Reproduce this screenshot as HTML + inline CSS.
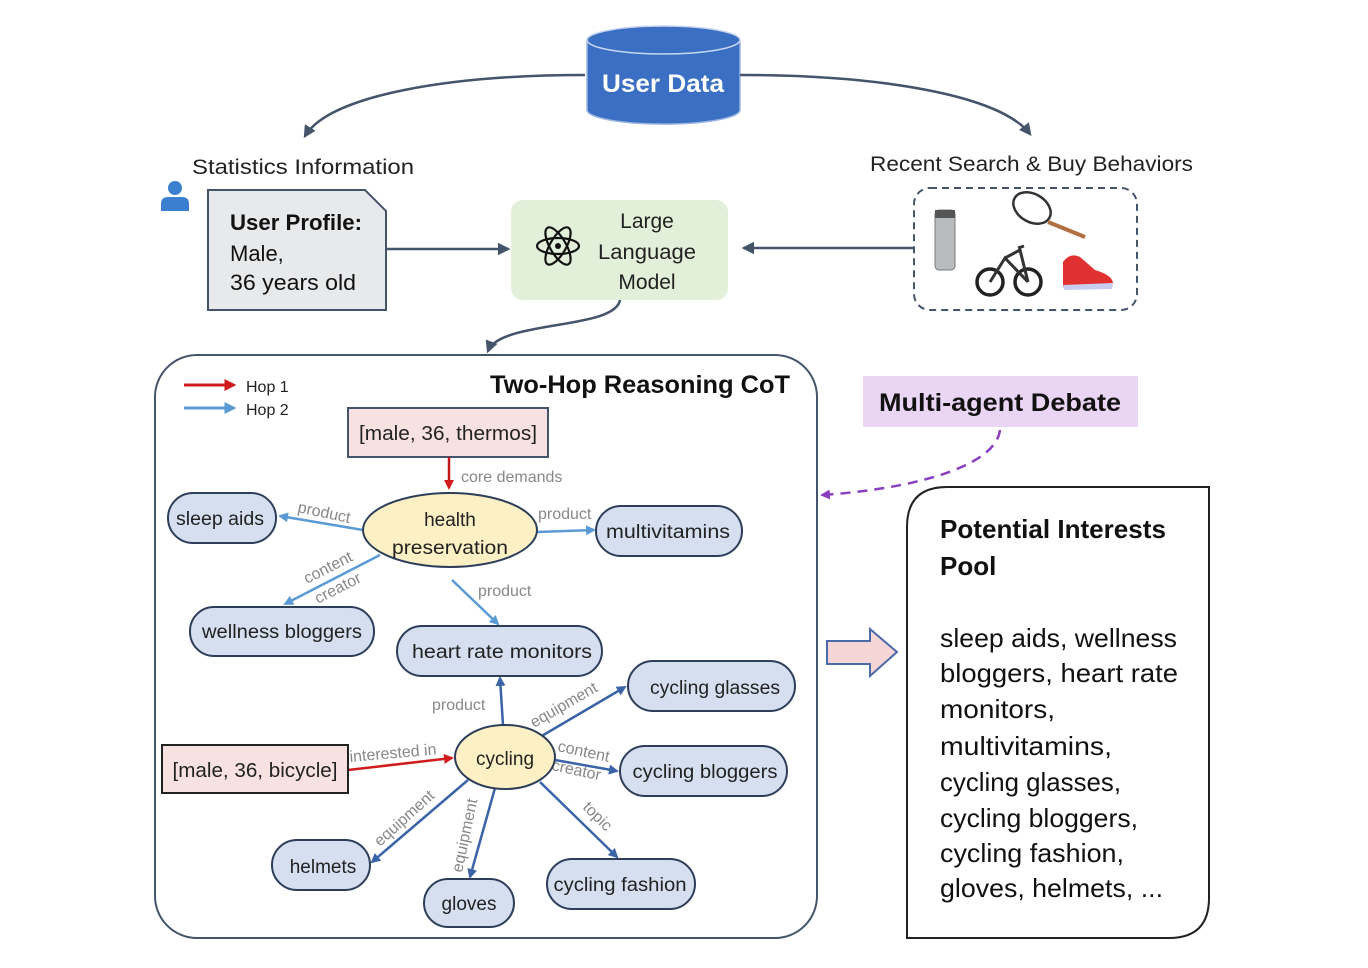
<!DOCTYPE html>
<html><head><meta charset="utf-8"><style>html,body{margin:0;padding:0;background:#fff}svg{display:block}text{font-family:"Liberation Sans",sans-serif}</style></head><body>
<svg width="1368" height="968" viewBox="0 0 1368 968" xmlns="http://www.w3.org/2000/svg">
<defs>
<marker id="ad" viewBox="0 0 10 10" refX="8" refY="5" markerWidth="5" markerHeight="5" orient="auto"><path d="M0,0 L10,5 L0,10 z" fill="#44546a"/></marker>
<marker id="ar" viewBox="0 0 10 10" refX="8" refY="5" markerWidth="4" markerHeight="4" orient="auto"><path d="M0,0 L10,5 L0,10 z" fill="#d01c1c"/></marker>
<marker id="al" viewBox="0 0 10 10" refX="8" refY="5" markerWidth="4" markerHeight="4" orient="auto"><path d="M0,0 L10,5 L0,10 z" fill="#5b9bd5"/></marker>
<marker id="ab" viewBox="0 0 10 10" refX="8" refY="5" markerWidth="4" markerHeight="4" orient="auto"><path d="M0,0 L10,5 L0,10 z" fill="#3b64a8"/></marker>
<marker id="ap" viewBox="0 0 10 10" refX="8" refY="5" markerWidth="4" markerHeight="4" orient="auto"><path d="M0,0 L10,5 L0,10 z" fill="#8a3fc0"/></marker>
</defs>
<!-- User Data cylinder -->
<path d="M587,40 L587,110 A76,14 0 0 0 740,110 L740,40 Z" fill="#3a6fc4" stroke="#9cb6e0" stroke-width="1.5"/>
<ellipse cx="663.5" cy="40" rx="76.5" ry="14" fill="#3a6fc4" stroke="#c9d7ef" stroke-width="1.5"/>
<text x="663" y="92" font-size="25" font-weight="bold" fill="#fff" text-anchor="middle" textLength="122" lengthAdjust="spacingAndGlyphs">User Data</text>
<path d="M585,75 C450,75 330,95 305,136" fill="none" stroke="#44546a" stroke-width="2.5" marker-end="url(#ad)"/>
<path d="M740,75 C880,75 1000,95 1030,134" fill="none" stroke="#44546a" stroke-width="2.5" marker-end="url(#ad)"/>
<text x="192" y="174" font-size="21" fill="#222" textLength="222" lengthAdjust="spacingAndGlyphs">Statistics Information</text>
<text x="870" y="171" font-size="21" fill="#222" textLength="323" lengthAdjust="spacingAndGlyphs">Recent Search &amp; Buy Behaviors</text>
<!-- person -->
<circle cx="175" cy="188" r="7" fill="#3a7fd0"/>
<path d="M161,211 L161,204 Q161,197 168,197 L182,197 Q189,197 189,204 L189,211 Z" fill="#3a7fd0"/>
<!-- profile -->
<path d="M208,190 L365,190 L386,211 L386,310 L208,310 Z" fill="#e8e9eb" stroke="#44546a" stroke-width="2"/>
<text x="230" y="230" font-size="22" font-weight="bold" fill="#111" textLength="132" lengthAdjust="spacingAndGlyphs">User Profile:</text>
<text x="230" y="261" font-size="22" fill="#111">Male,</text>
<text x="230" y="290" font-size="22" fill="#111" textLength="126" lengthAdjust="spacingAndGlyphs">36 years old</text>
<line x1="386" y1="249" x2="508" y2="249" stroke="#44546a" stroke-width="2.5" marker-end="url(#ad)"/>
<!-- LLM -->
<rect x="511" y="200" width="217" height="100" rx="12" fill="#e2efd9"/>
<g fill="none" stroke="#111" stroke-width="2.2">
<ellipse cx="558" cy="246" rx="21" ry="8"/>
<ellipse cx="558" cy="246" rx="21" ry="8" transform="rotate(60 558 246)"/>
<ellipse cx="558" cy="246" rx="21" ry="8" transform="rotate(-60 558 246)"/>
</g>
<circle cx="558" cy="246" r="3" fill="#111"/>
<text x="647" y="228" font-size="21" fill="#222" text-anchor="middle">Large</text>
<text x="647" y="259" font-size="21" fill="#222" text-anchor="middle" textLength="98" lengthAdjust="spacingAndGlyphs">Language</text>
<text x="647" y="289" font-size="21" fill="#222" text-anchor="middle">Model</text>
<line x1="913" y1="248" x2="744" y2="248" stroke="#44546a" stroke-width="2.5" marker-end="url(#ad)"/>
<!-- dashed product box -->
<rect x="914" y="188" width="223" height="122" rx="16" fill="none" stroke="#44546a" stroke-width="2" stroke-dasharray="7,5"/>
<rect x="935" y="210" width="20" height="60" rx="4" fill="#b9bcbf" stroke="#777"/>
<rect x="935" y="210" width="20" height="8" fill="#555"/>
<ellipse cx="1032" cy="208" rx="20" ry="14" transform="rotate(30 1032 208)" fill="none" stroke="#333" stroke-width="2.5"/>
<line x1="1048" y1="222" x2="1085" y2="237" stroke="#b07040" stroke-width="4"/>
<circle cx="990" cy="282" r="13" fill="none" stroke="#222" stroke-width="3.5"/>
<circle cx="1028" cy="282" r="13" fill="none" stroke="#222" stroke-width="3.5"/>
<path d="M990,282 L1005,258 L1028,282 M1005,258 L1020,250 L1028,282 M1018,248 L1024,246" fill="none" stroke="#333" stroke-width="3"/>
<path d="M1063,262 Q1070,252 1080,257 L1095,270 Q1112,275 1113,283 L1063,287 Z" fill="#e03030"/>
<path d="M1063,285 L1113,283 L1112,289 L1064,290 Z" fill="#c8cdf0"/>
<!-- curve to CoT -->
<path d="M620,300 C615,330 500,320 488,351" fill="none" stroke="#44546a" stroke-width="2.5" marker-end="url(#ad)"/>
<!-- CoT box -->
<rect x="155" y="355" width="662" height="583" rx="42" fill="none" stroke="#44546a" stroke-width="2"/>
<line x1="184" y1="385" x2="234" y2="385" stroke="#d01c1c" stroke-width="3" marker-end="url(#ar)"/>
<line x1="184" y1="408" x2="234" y2="408" stroke="#5b9bd5" stroke-width="3" marker-end="url(#al)"/>
<text x="246" y="392" font-size="16" fill="#222">Hop 1</text>
<text x="246" y="415" font-size="16" fill="#222">Hop 2</text>
<text x="790" y="393" font-size="25" font-weight="bold" fill="#111" text-anchor="end" textLength="300" lengthAdjust="spacingAndGlyphs">Two-Hop Reasoning CoT</text>
<!-- thermos -->
<rect x="348" y="408" width="200" height="49" fill="#f8e1e1" stroke="#44546a" stroke-width="2"/>
<text x="448" y="440" font-size="20" fill="#222" text-anchor="middle" textLength="178" lengthAdjust="spacingAndGlyphs">[male, 36, thermos]</text>
<line x1="449" y1="457" x2="449" y2="488" stroke="#c01818" stroke-width="2.5" marker-end="url(#ar)"/>
<text x="461" y="482" font-size="16" fill="#888">core demands</text>
<!-- hop2 light arrows -->
<g stroke="#5b9bd5" stroke-width="2.5" fill="none" marker-end="url(#al)">
<line x1="363" y1="530" x2="280" y2="516"/>
<line x1="537" y1="532" x2="594" y2="530"/>
<line x1="380" y1="555" x2="285" y2="604"/>
<line x1="452" y1="580" x2="498" y2="624"/>
</g>
<text font-size="16" fill="#888" transform="translate(297,512) rotate(12)">product</text>
<text x="538" y="519" font-size="16" fill="#888">product</text>
<text font-size="16" fill="#888" transform="translate(307,584) rotate(-27)">content</text>
<text font-size="16" fill="#888" transform="translate(318,604) rotate(-27)">creator</text>
<text x="478" y="596" font-size="16" fill="#888">product</text>
<ellipse cx="450" cy="530" rx="87" ry="37" fill="#fdf0c4" stroke="#2d3e5a" stroke-width="2"/>
<text x="450" y="526" font-size="19" fill="#222" text-anchor="middle">health</text>
<text x="450" y="554" font-size="19" fill="#222" text-anchor="middle" textLength="116" lengthAdjust="spacingAndGlyphs">preservation</text>
<!-- cycling arrows -->
<g stroke="#3b64a8" stroke-width="2.5" fill="none" marker-end="url(#ab)">
<line x1="503" y1="725" x2="500" y2="678"/>
<line x1="540" y1="737" x2="625" y2="687"/>
<line x1="555" y1="760" x2="617" y2="771"/>
<line x1="540" y1="782" x2="617" y2="857"/>
<line x1="495" y1="788" x2="470" y2="877"/>
<line x1="468" y1="780" x2="372" y2="862"/>
</g>
<line x1="348" y1="770" x2="452" y2="758" stroke="#d01c1c" stroke-width="2.5" marker-end="url(#ar)"/>
<text x="432" y="710" font-size="16" fill="#888">product</text>
<text font-size="16" fill="#888" transform="translate(534,728) rotate(-30)">equipment</text>
<text font-size="16" fill="#888" transform="translate(557,751) rotate(12)">content</text>
<text font-size="16" fill="#888" transform="translate(551,770) rotate(12)">creator</text>
<text font-size="16" fill="#888" transform="translate(582,808) rotate(45)">topic</text>
<text font-size="16" fill="#888" transform="translate(462,873) rotate(-78)">equipment</text>
<text font-size="16" fill="#888" transform="translate(380,847) rotate(-42)">equipment</text>
<text font-size="16" fill="#888" transform="translate(350,762) rotate(-5)">interested in</text>
<ellipse cx="505" cy="757" rx="50" ry="32" fill="#fdf0c4" stroke="#2d3e5a" stroke-width="2"/>
<text x="505" y="765" font-size="19" fill="#222" text-anchor="middle">cycling</text>
<rect x="162" y="745" width="186" height="48" fill="#f8e1e1" stroke="#222" stroke-width="2"/>
<text x="255" y="777" font-size="20" fill="#222" text-anchor="middle" textLength="165" lengthAdjust="spacingAndGlyphs">[male, 36, bicycle]</text>
<!-- pills -->
<g fill="#d6dff0" stroke="#2d3e5a" stroke-width="2">
<rect x="168" y="493" width="108" height="50" rx="25"/>
<rect x="596" y="506" width="146" height="50" rx="25"/>
<rect x="190" y="607" width="184" height="49" rx="24"/>
<rect x="397" y="626" width="205" height="50" rx="25"/>
<rect x="628" y="661" width="167" height="50" rx="25"/>
<rect x="620" y="746" width="167" height="50" rx="25"/>
<rect x="272" y="840" width="98" height="50" rx="25"/>
<rect x="424" y="879" width="90" height="48" rx="24"/>
<rect x="547" y="859" width="148" height="50" rx="25"/>
</g>
<g font-size="19" fill="#222" text-anchor="middle">
<text x="220" y="525" textLength="88" lengthAdjust="spacingAndGlyphs">sleep aids</text>
<text x="668" y="538" textLength="124" lengthAdjust="spacingAndGlyphs">multivitamins</text>
<text x="282" y="638" textLength="160" lengthAdjust="spacingAndGlyphs">wellness bloggers</text>
<text x="502" y="658" textLength="180" lengthAdjust="spacingAndGlyphs">heart rate monitors</text>
<text x="715" y="694" textLength="130" lengthAdjust="spacingAndGlyphs">cycling glasses</text>
<text x="705" y="778" textLength="145" lengthAdjust="spacingAndGlyphs">cycling bloggers</text>
<text x="323" y="873">helmets</text>
<text x="469" y="910">gloves</text>
<text x="620" y="891" textLength="133" lengthAdjust="spacingAndGlyphs">cycling fashion</text>
</g>
<!-- Multi-agent debate -->
<rect x="863" y="376" width="275" height="51" fill="#ead6f4"/>
<text x="1000" y="411" font-size="25" font-weight="bold" fill="#111" text-anchor="middle" textLength="242" lengthAdjust="spacingAndGlyphs">Multi-agent Debate</text>
<path d="M1000,430 C995,470 900,490 822,495" fill="none" stroke="#8a3fc0" stroke-width="2.5" stroke-dasharray="10,7" marker-end="url(#ap)"/>
<!-- big arrow -->
<path d="M827,641 L870,641 L870,629 L897,652 L870,676 L870,664 L827,664 Z" fill="#f5d5d5" stroke="#4a6aa8" stroke-width="2"/>
<!-- pool -->
<path d="M947,487 L1209,487 L1209,898 Q1209,938 1169,938 L907,938 L907,527 Q907,487 947,487 Z" fill="#fff" stroke="#222" stroke-width="2"/>
<text x="940" y="538" font-size="26" font-weight="bold" fill="#111" textLength="226" lengthAdjust="spacingAndGlyphs">Potential Interests</text>
<text x="940" y="575" font-size="26" font-weight="bold" fill="#111">Pool</text>
<g font-size="26" fill="#111">
<text x="940" y="647" textLength="237" lengthAdjust="spacingAndGlyphs">sleep aids, wellness</text>
<text x="940" y="682" textLength="238" lengthAdjust="spacingAndGlyphs">bloggers, heart rate</text>
<text x="940" y="718" textLength="115" lengthAdjust="spacingAndGlyphs">monitors,</text>
<text x="940" y="755" textLength="172" lengthAdjust="spacingAndGlyphs">multivitamins,</text>
<text x="940" y="791" textLength="181" lengthAdjust="spacingAndGlyphs">cycling glasses,</text>
<text x="940" y="827" textLength="198" lengthAdjust="spacingAndGlyphs">cycling bloggers,</text>
<text x="940" y="862" textLength="184" lengthAdjust="spacingAndGlyphs">cycling fashion,</text>
<text x="940" y="897" textLength="223" lengthAdjust="spacingAndGlyphs">gloves, helmets, ...</text>
</g>
</svg>
</body></html>
